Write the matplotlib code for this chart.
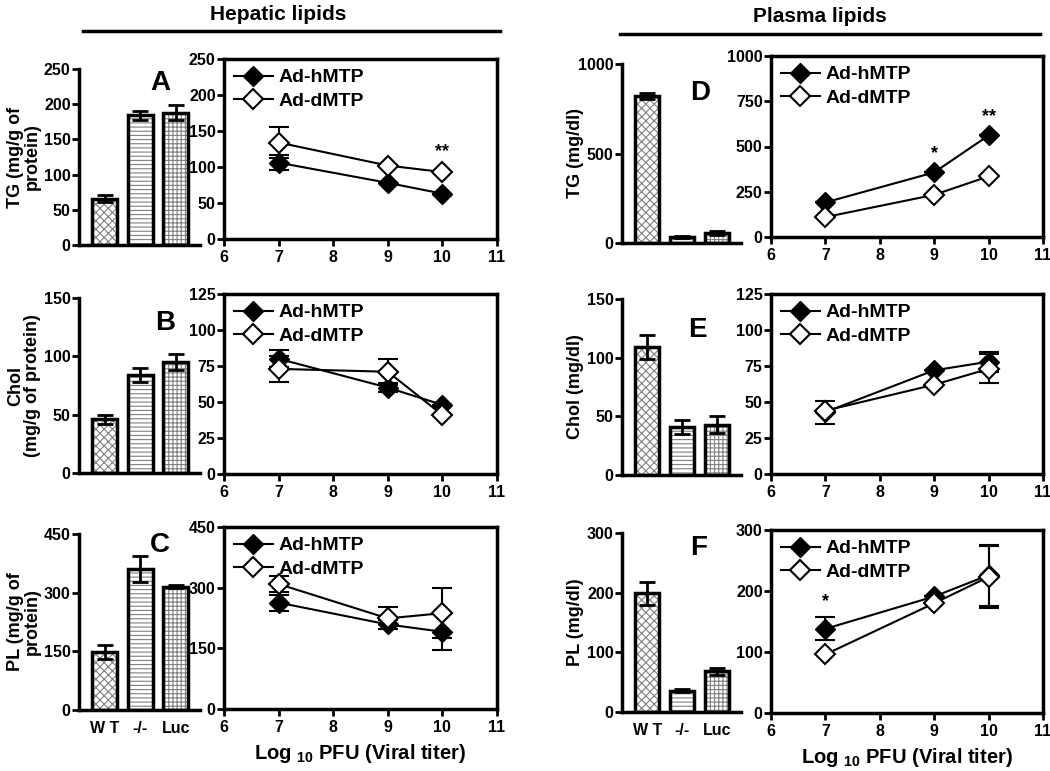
import numpy as np
import matplotlib
matplotlib.use("Agg")
import matplotlib.pyplot as plt

plt.rcParams['font.family'] = ['Liberation Sans', 'DejaVu Sans']
plt.rcParams['font.weight'] = 'bold'
plt.rcParams['mathtext.fontset'] = 'custom'
plt.rcParams['mathtext.bf'] = 'Liberation Sans:bold'
plt.rcParams['mathtext.rm'] = 'Liberation Sans:bold'
plt.rcParams['hatch.linewidth'] = 0.8

W, H = 1050, 771

# ---- data ----
groups = ['W T', '-/-', 'Luc']
titer = [7, 9, 10]

# bar panels (mean, sem)
barA = [66, 184, 188];   barA_err = [5, 7, 11]
barB = [46, 84, 95];     barB_err = [4, 6, 7]
barC = [149, 361, 315];  barC_err = [18, 33, 4]
barD = [821, 34, 57];    barD_err = [18, 4, 12]
barE = [109, 41, 43];    barE_err = [10, 6, 7]
barF = [199, 36, 68];    barF_err = [19, 3, 6]

# line panels
hA = [106, 78, 63];   hA_err = [10, 0, 0]
dA = [134, 102, 93];  dA_err = [22, 0, 0]
hB = [80, 60, 48];    hB_err = [6, 3, 0]
dB = [73, 71, 41];    dB_err = [9, 9, 0]
hC = [263, 209, 191]; hC_err = [20, 12, 45]
dC = [309, 224, 237]; dC_err = [20, 27, 62]
hD = [191, 357, 561]; hD_err = [0, 0, 0]
dD = [110, 233, 335]; dD_err = [0, 0, 0]
hE = [43, 72, 78];    hE_err = [8, 0, 7]
dE = [44, 62, 73];    dE_err = [0, 0, 10]
hF = [138, 191, 226]; hF_err = [19, 0, 50]
dF = [96, 180, 223];  dF_err = [0, 0, 51]

hatches = ['xxxx', '----', '++++']


def box(x0, x1, ytop, ybot):
    return [x0 / W, 1 - ybot / H, (x1 - x0) / W, (ybot - ytop) / H]


def style_ax(ax, full=False):
    for s in ['left', 'bottom', 'top', 'right']:
        ax.spines[s].set_linewidth(2.5)
    if not full:
        ax.spines['top'].set_visible(False)
        ax.spines['right'].set_visible(False)
    ax.tick_params(width=2, length=5, labelsize=11.5, pad=1)


def bar_panel(rect, vals, errs, ymax, step, ylabel, show_x=False, lab_x=0.023):
    ax = fig.add_axes(rect)
    x = np.arange(len(vals))
    for i in range(len(vals)):
        ax.bar(x[i], vals[i], 0.7, color='white', edgecolor='#808080',
               hatch=hatches[i], linewidth=0, zorder=1)
    ax.bar(x, vals, 0.7, color='none', edgecolor='black', linewidth=2.5, zorder=2)
    ax.errorbar(x, vals, yerr=errs, fmt='none', ecolor='black', elinewidth=2,
                capsize=6, capthick=2, zorder=3)
    ax.set_xlim(-0.72, 2.68)
    ax.set_ylim(0, ymax)
    ax.set_yticks(np.arange(0, ymax + 1, step))
    if show_x:
        ax.set_xticks(x)
        ax.set_xticklabels(groups)
    else:
        ax.set_xticks([])
    style_ax(ax)
    ax.tick_params(axis='x', length=0, pad=8)
    fig.text(lab_x, rect[1] + rect[3] / 2, ylabel, rotation=90, ha='center',
             va='center', fontsize=13, fontweight='bold', linespacing=0.95)
    return ax


def line_panel(rect, h, he, d, de, ymax, step, stars=None, xlabel=False):
    ax = fig.add_axes(rect)
    ax.errorbar(titer, h, yerr=he, color='black', marker='D', ms=10, mfc='black',
                mec='black', lw=1.5, elinewidth=1.5, capsize=7, capthick=1.5,
                label='Ad-hMTP', zorder=3)
    ax.errorbar(titer, d, yerr=de, color='black', marker='D', ms=10, mfc='white',
                mec='black', mew=1.5, lw=1.5, elinewidth=1.5, capsize=7,
                capthick=1.5, label='Ad-dMTP', zorder=4)
    ax.set_xlim(6, 11)
    ax.set_ylim(0, ymax)
    ax.set_xticks(range(6, 12))
    ax.set_yticks(np.arange(0, ymax + 1, step))
    style_ax(ax, full=True)
    ax.tick_params(axis='x', pad=3)
    handles, labels = ax.get_legend_handles_labels()
    handles = [hh[0] for hh in handles]
    ax.legend(handles, labels, loc='upper left', frameon=False,
              prop={'size': 14, 'weight': 'bold'}, handlelength=2.0,
              handletextpad=0.3, borderaxespad=0.2, labelspacing=0.3,
              borderpad=0.3)
    if stars:
        for sx, sy, s in stars:
            ax.text(sx, sy, s, ha='center', va='center', fontsize=13)
    if xlabel:
        ax.set_xlabel(r'Log $_{10}$ PFU (Viral titer)', fontsize=14.5,
                      fontweight='bold', labelpad=5)
    return ax


fig = plt.figure(figsize=(10.5, 7.71), dpi=100)

# left column
bar_panel(box(79, 200, 69, 245), barA, barA_err, 250, 50, 'TG (mg/g of\nprotein)')
bar_panel(box(79, 200, 298, 473), barB, barB_err, 150, 50, 'Chol\n(mg/g of protein)')
bar_panel(box(79, 200, 534, 710), barC, barC_err, 450, 150, 'PL (mg/g of\nprotein)',
          show_x=True)
line_panel(box(224, 497, 59, 239), hA, hA_err, dA, dA_err, 250, 50,
           stars=[(10, 122, '**')])
line_panel(box(224, 497, 294, 474), hB, hB_err, dB, dB_err, 125, 25)
line_panel(box(224, 497, 527, 709), hC, hC_err, dC, dC_err, 450, 150, xlabel=True)

# right column
bar_panel(box(622, 741, 64, 243), barD, barD_err, 1000, 500, 'TG (mg/dl)',
          lab_x=0.548)
bar_panel(box(622, 741, 299, 475), barE, barE_err, 150, 50, 'Chol (mg/dl)',
          lab_x=0.548)
bar_panel(box(622, 741, 533, 712), barF, barF_err, 300, 100, 'PL (mg/dl)',
          show_x=True, lab_x=0.548)
line_panel(box(771, 1043, 56, 237), hD, hD_err, dD, dD_err, 1000, 250,
           stars=[(9, 460, '*'), (10, 665, '**')])
line_panel(box(771, 1043, 294, 474), hE, hE_err, dE, dE_err, 125, 25)
line_panel(box(771, 1043, 530, 713), hF, hF_err, dF, dF_err, 300, 100,
           stars=[(7, 183, '*')], xlabel=True)

# panel letters
for lx, ly, s in [(160, 83, 'A'), (165, 323, 'B'), (160, 545, 'C'),
                  (700, 93, 'D'), (697, 330, 'E'), (699, 548, 'F')]:
    fig.text(lx / W, 1 - ly / H, s, ha='center', va='center', fontsize=20,
             fontweight='bold')

# headers
for hx, hy, s in [(278, 14, 'Hepatic lipids'), (820, 16, 'Plasma lipids')]:
    fig.text(hx / W, 1 - hy / H, s, ha='center', va='center', fontsize=15,
             fontweight='bold', fontstretch='condensed')
fig.add_artist(plt.Line2D([83 / W, 500 / W], [1 - 31 / H, 1 - 31 / H],
                          color='black', lw=2.5))
fig.add_artist(plt.Line2D([620 / W, 1040 / W], [1 - 34 / H, 1 - 34 / H],
                          color='black', lw=2.5))

fig.savefig('out.png', dpi=100)
